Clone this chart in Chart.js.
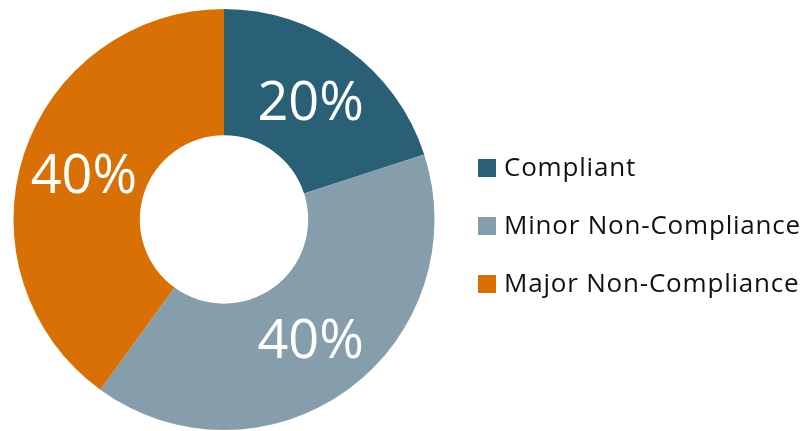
<!DOCTYPE html>
<html>
<head>
<meta charset="utf-8">
<script src="https://cdn.jsdelivr.net/npm/chart.js@4"></script>
<style>
  html, body { margin: 0; padding: 0; background: #fff; }
  #chart-container { width: 804px; height: 431px; position: relative; }
</style>
</head>
<body>
<div id="chart-container">
  <canvas id="compliancechart"></canvas>
</div>
<script>
const categories = ['Compliant', 'Minor Non-Compliance', 'Major Non-Compliance'];
const shares = [20, 40, 40];
const sliceColors = ['#2a6075', '#869dab', '#d87006'];

// percent text inside each slice
const sliceLabels = {
    id: 'sliceLabels',
    afterDatasetsDraw(chart) {
        const ctx = chart.ctx;
        const meta = chart.getDatasetMeta(0);
        ctx.save();
        ctx.fillStyle = '#ffffff';
        ctx.font = '54px "Open Sans"';
        ctx.textAlign = 'center';
        ctx.textBaseline = 'middle';
        meta.data.forEach((arc, i) => {
            const p = arc.getCenterPoint();
            ctx.fillText(shares[i] + '%', p.x, p.y + 4);
        });
        ctx.restore();
    }
};

// legend drawn at the right, like the original
const sideLegend = {
    id: 'sideLegend',
    afterDraw(chart) {
        const ctx = chart.ctx;
        const x = 478;
        const firstBaseline = 176;
        const step = 58;
        ctx.save();
        ctx.font = '26px "Open Sans"';
        ctx.letterSpacing = '0.8px';
        ctx.textAlign = 'left';
        ctx.textBaseline = 'alphabetic';
        categories.forEach((name, i) => {
            const base = firstBaseline + i * step;
            ctx.fillStyle = sliceColors[i];
            ctx.fillRect(x, base - 17, 18, 18);
            ctx.fillStyle = '#111111';
            ctx.fillText(name, x + 26, base);
        });
        ctx.restore();
    }
};

const ctx = document.getElementById('compliancechart').getContext('2d');
const config = {
    type: 'doughnut',
    data: {
        labels: categories,
        datasets: [{
            data: shares,
            backgroundColor: sliceColors,
            borderWidth: 0,
            hoverOffset: 0
        }]
    },
    options: {
        responsive: true,
        maintainAspectRatio: false,
        animation: false,
        cutout: '40%',
        layout: {
            padding: { left: 0, right: 356, top: 9, bottom: 1 }
        },
        plugins: {
            legend: { display: false },
            tooltip: { enabled: false }
        }
    },
    plugins: [sliceLabels, sideLegend]
};

const myChart = new Chart(ctx, config);
</script>
</body>
</html>
